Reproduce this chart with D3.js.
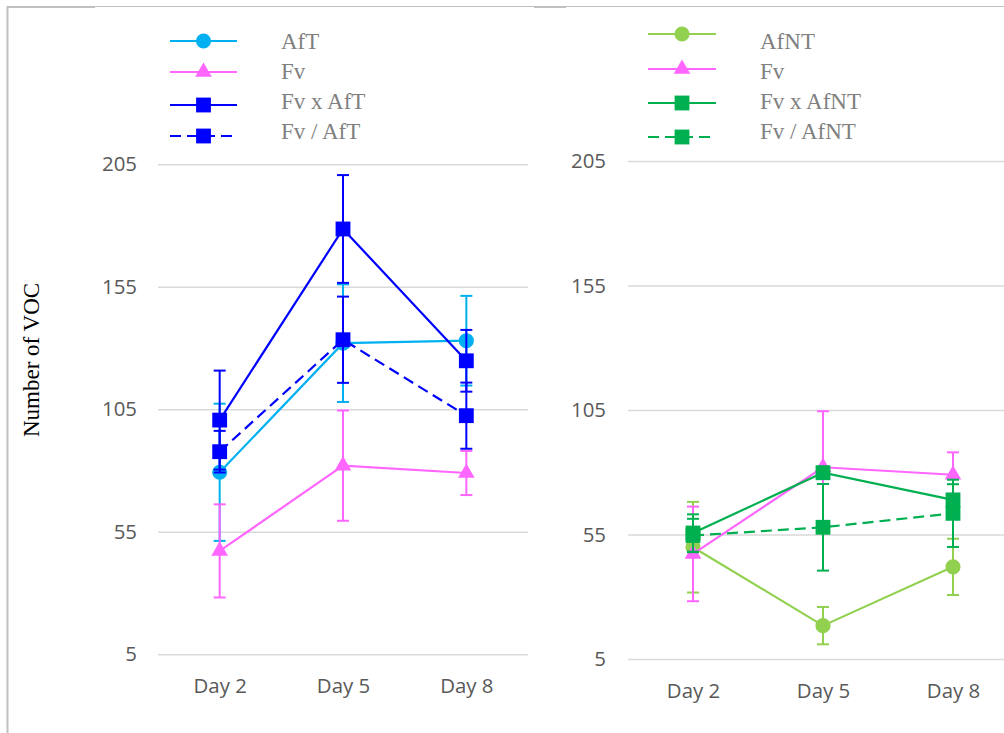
<!DOCTYPE html>
<html>
<head>
<meta charset="utf-8">
<script src="https://cdn.jsdelivr.net/npm/d3@7"></script>
<style>
  html, body { margin: 0; padding: 0; background: #fff; }
  svg { display: block; }
</style>
</head>
<body>
<svg id="chart" width="1004" height="733"></svg>
<script>
// Sampling days shared by both panels
const days = ["Day 2", "Day 5", "Day 8"];
const yTicks = [5, 55, 105, 155, 205];

// Left panel: AfT treatments (mean and error)
const aftMean      = [79.3, 132, 133];
const aftErr       = [28, 24, 18.3];
const fvMean       = [47.2, 82, 79];
const fvErr        = [19, 22.5, 9];
const fvxAftMean   = [100.6, 178.6, 124.8];
const fvxAftErr    = [20.2, 22, 12.6];
const fvSlAftMean  = [87.7, 133.4, 102.4];
const fvSlAftErr   = [8.5, 17.6, 13.5];

// Right panel: AfNT treatments (mean and error)
const afntMean     = [49.9, 18.4, 42];
const afntErr      = [18.2, 7.5, 11.3];
const fvxAfntMean  = [55.6, 79.8, 68.9];
const fvxAfntErr   = [7.5, 2.5, 6.3];
const fvSlAfntMean = [54.6, 57.9, 63.5];
const fvSlAfntErr  = [6.7, 17.4, 13.5];

const C = {
  aft: "#00B0F0", fv: "#FF66FF", blue: "#0000FF",
  afnt: "#92D050", green: "#00B050"
};

const svg = d3.select("#chart");

// Frame lines
const frame = svg.append("g").attr("stroke", "#c0c0c0").attr("fill", "none");
frame.append("line").attr("x1", 7).attr("x2", 1004).attr("y1", 6.5).attr("y2", 6.5).attr("stroke-width", 1.2);
frame.append("line").attr("x1", 7).attr("x2", 95).attr("y1", 7).attr("y2", 7).attr("stroke-width", 2);
frame.append("line").attr("x1", 534).attr("x2", 566).attr("y1", 7).attr("y2", 7).attr("stroke-width", 2);
frame.append("line").attr("x1", 7.5).attr("x2", 7.5).attr("y1", 6).attr("y2", 733).attr("stroke-width", 2);

// Y axis title
svg.append("text")
  .attr("transform", "translate(39,360) rotate(-90)")
  .attr("text-anchor", "middle")
  .attr("font-family", "'Liberation Serif', 'Times New Roman', serif")
  .attr("font-size", 23)
  .attr("fill", "#000")
  .text("Number of VOC");

function drawPanel(cfg) {
  const x = d3.scalePoint().domain(days).range([cfg.x0, cfg.x1]).padding(0.5);
  const y = d3.scaleLinear().domain([5, 205]).range([cfg.yBottom, cfg.yTop]);
  const g = svg.append("g");

  // Horizontal gridlines
  const grid = g.append("g")
    .attr("transform", `translate(${cfg.x0},0)`)
    .call(d3.axisLeft(y).tickValues(yTicks).tickSize(-(cfg.x1 - cfg.x0)).tickFormat(""));
  grid.select(".domain").remove();
  grid.selectAll(".tick line").attr("stroke", "#d9d9d9").attr("stroke-width", 1.6);

  // Y tick labels
  const ya = g.append("g")
    .attr("transform", `translate(${cfg.x0},0)`)
    .call(d3.axisLeft(y).tickValues(yTicks).tickSize(0).tickPadding(cfg.yPad));
  ya.select(".domain").remove();
  ya.selectAll("text")
    .attr("font-family", "'Open Sans', sans-serif")
    .attr("font-size", 20.4)
    .attr("fill", "#595959");

  // X tick labels
  const xa = g.append("g")
    .attr("transform", `translate(0,${cfg.yBottom})`)
    .call(d3.axisBottom(x).tickSize(0).tickPadding(24.5));
  xa.select(".domain").remove();
  xa.selectAll("text")
    .attr("font-family", "'Open Sans', sans-serif")
    .attr("font-size", 20.4)
    .attr("fill", "#595959");

  const line = d3.line().x((d, i) => x(days[i])).y(d => y(d));

  cfg.series.forEach(s => {
    const sg = g.append("g");
    // error bars
    s.mean.forEach((m, i) => {
      const cx = x(days[i]);
      const lo = y(m - s.err[i]), hi = y(m + s.err[i]);
      sg.append("line").attr("x1", cx).attr("x2", cx).attr("y1", lo).attr("y2", hi)
        .attr("stroke", s.color).attr("stroke-width", 2);
      [lo, hi].forEach(yy => sg.append("line")
        .attr("x1", cx - 6).attr("x2", cx + 6).attr("y1", yy).attr("y2", yy)
        .attr("stroke", s.color).attr("stroke-width", 2));
    });
    // connecting line
    sg.append("path").datum(s.mean).attr("d", line)
      .attr("fill", "none").attr("stroke", s.color).attr("stroke-width", 2.2)
      .attr("stroke-dasharray", s.dash ? "11,6" : null);
    // markers
    sg.selectAll("path.mk").data(s.mean).join("path").attr("class", "mk")
      .attr("transform", (d, i) => `translate(${x(days[i])},${y(d)})`)
      .attr("d", d3.symbol().type(s.symbol).size(s.size))
      .attr("fill", s.color);
  });

  // Legend
  const lg = g.append("g");
  cfg.series.forEach((s, i) => {
    const ly = cfg.legendY[i];
    lg.append("line").attr("x1", cfg.legendX0).attr("x2", cfg.legendX1)
      .attr("y1", ly).attr("y2", ly)
      .attr("stroke", s.color).attr("stroke-width", 2.2)
      .attr("stroke-dasharray", s.dash ? "11,6" : null);
    lg.append("path")
      .attr("transform", `translate(${(cfg.legendX0 + cfg.legendX1) / 2},${ly})`)
      .attr("d", d3.symbol().type(s.symbol).size(s.size))
      .attr("fill", s.color);
    lg.append("text")
      .attr("x", cfg.textX).attr("y", cfg.textY[i])
      .attr("font-family", "'Liberation Serif', 'Times New Roman', serif")
      .attr("font-size", 23)
      .attr("fill", "#808080")
      .text(s.name);
  });
}

const circle = { symbol: d3.symbolCircle, size: 180 };
const tri = { symbol: d3.symbolTriangle, size: 120 };
const sq = { symbol: d3.symbolSquare, size: 220 };

drawPanel({
  x0: 158, x1: 528, yBottom: 654.3, yTop: 164.3, yPad: 21,
  legendX0: 170, legendX1: 237, legendY: [41, 72, 105, 136],
  textX: 281, textY: [49, 79, 109, 139],
  series: [
    { name: "AfT", mean: aftMean, err: aftErr, color: C.aft, ...circle },
    { name: "Fv", mean: fvMean, err: fvErr, color: C.fv, ...tri },
    { name: "Fv x AfT", mean: fvxAftMean, err: fvxAftErr, color: C.blue, ...sq },
    { name: "Fv / AfT", mean: fvSlAftMean, err: fvSlAftErr, color: C.blue, dash: true, ...sq }
  ]
});

drawPanel({
  x0: 628, x1: 1018, yBottom: 659, yTop: 161, yPad: 22,
  legendX0: 648, legendX1: 716, legendY: [34, 69, 103, 137],
  textX: 760, textY: [49, 79, 109, 139],
  series: [
    { name: "AfNT", mean: afntMean, err: afntErr, color: C.afnt, ...circle },
    { name: "Fv", mean: fvMean, err: fvErr, color: C.fv, ...tri },
    { name: "Fv x AfNT", mean: fvxAfntMean, err: fvxAfntErr, color: C.green, ...sq },
    { name: "Fv / AfNT", mean: fvSlAfntMean, err: fvSlAfntErr, color: C.green, dash: true, ...sq }
  ]
});
</script>
</body>
</html>
